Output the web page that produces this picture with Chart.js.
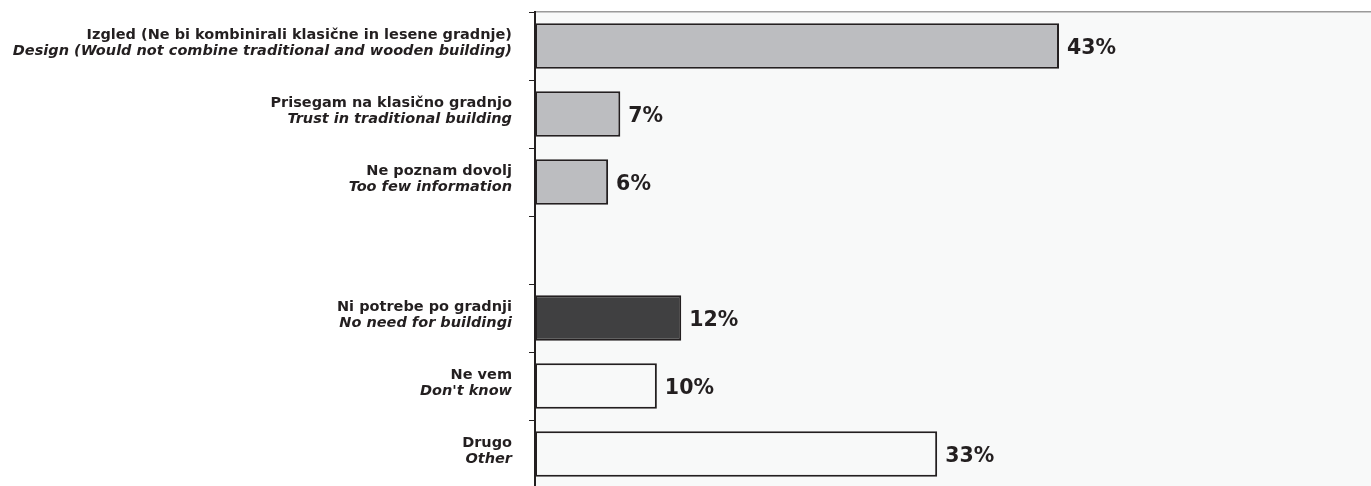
<!DOCTYPE html>
<html>
<head>
<meta charset="utf-8">
<title>Razlogi</title>
<script src="https://cdn.jsdelivr.net/npm/chart.js@4"></script>
<style>
  html, body { margin: 0; padding: 0; background: #fff; overflow: hidden; }
  #wrap { width: 1371px; height: 488px; position: relative; }
</style>
</head>
<body>
<div id="wrap"><canvas id="reasonsChart"></canvas></div>
<script>
// answers: Slovenian line + English line, empty slot is the gap between groups
const labelsSl = [
  'Izgled (Ne bi kombinirali klasične in lesene gradnje)',
  'Prisegam na klasično gradnjo',
  'Ne poznam dovolj',
  '',
  'Ni potrebe po gradnji',
  'Ne vem',
  'Drugo'
];
const labelsEn = [
  'Design (Would not combine traditional and wooden building)',
  'Trust in traditional building',
  'Too few information',
  '',
  'No need for buildingi',
  "Don't know",
  'Other'
];
const shares = [43, 7, 6, null, 12, 10, 33];
const barColors = ['#bcbdc0', '#bcbdc0', '#bcbdc0', '#bcbdc0', '#404041', '#f8f9f9', '#f8f9f9'];

const ink = '#231f20';

// light fill behind the plot area only
const plotBackground = {
  id: 'plotBackground',
  beforeDraw(chart) {
    const { ctx, chartArea: a } = chart;
    ctx.save();
    ctx.fillStyle = '#f8f9f9';
    ctx.fillRect(a.left, a.top, a.right - a.left, a.bottom - a.top);
    ctx.restore();
  }
};

// two-line category labels (bold / bold italic) right-aligned against the axis
const answerLabels = {
  id: 'answerLabels',
  afterDraw(chart) {
    const { ctx } = chart;
    const y = chart.scales.y;
    ctx.save();
    ctx.fillStyle = ink;
    ctx.textAlign = 'right';
    ctx.textBaseline = 'alphabetic';
    labelsSl.forEach((sl, i) => {
      const cy = y.getPixelForValue(i);
      ctx.font = 'bold 14.5px "DejaVu Sans"';
      ctx.fillText(sl, 512, cy - 7);
      ctx.font = 'italic bold 14.5px "DejaVu Sans"';
      ctx.fillText(labelsEn[i], 512, cy + 9);
    });
    ctx.restore();
  }
};

// percentage next to each bar end
const valueLabels = {
  id: 'valueLabels',
  afterDatasetsDraw(chart) {
    const { ctx } = chart;
    const meta = chart.getDatasetMeta(0);
    ctx.save();
    ctx.fillStyle = ink;
    ctx.font = 'bold 20.5px "DejaVu Sans"';
    ctx.textAlign = 'left';
    ctx.textBaseline = 'alphabetic';
    meta.data.forEach((bar, i) => {
      if (shares[i] == null) return;
      ctx.fillText(shares[i] + '%', bar.x + 8, bar.y + 7.5);
    });
    ctx.restore();
  }
};

const ctx = document.getElementById('reasonsChart').getContext('2d');
const reasonsChart = new Chart(ctx, {
  type: 'bar',
  data: {
    labels: labelsSl,
    datasets: [{
      data: shares,
      backgroundColor: barColors,
      borderColor: ink,
      borderWidth: 2,
      borderSkipped: false,
      barPercentage: 0.67,
      categoryPercentage: 1
    }]
  },
  options: {
    indexAxis: 'y',
    responsive: true,
    maintainAspectRatio: false,
    animation: false,
    layout: { padding: 0 },
    scales: {
      x: {
        position: 'top',
        min: 0,
        max: 68.6,
        ticks: { display: false },
        grid: { display: false },
        border: { color: '#9a9a9a', width: 1.5 },
        afterFit(scale) { scale.height = 12; }
      },
      y: {
        ticks: { display: false },
        grid: {
          drawOnChartArea: false,
          tickLength: 6,
          color: ink,
          lineWidth: 1
        },
        border: { color: ink, width: 2 },
        afterFit(scale) { scale.width = 535; }
      }
    },
    plugins: {
      legend: { display: false },
      tooltip: { enabled: false }
    }
  },
  plugins: [plotBackground, answerLabels, valueLabels]
});
</script>
</body>
</html>
